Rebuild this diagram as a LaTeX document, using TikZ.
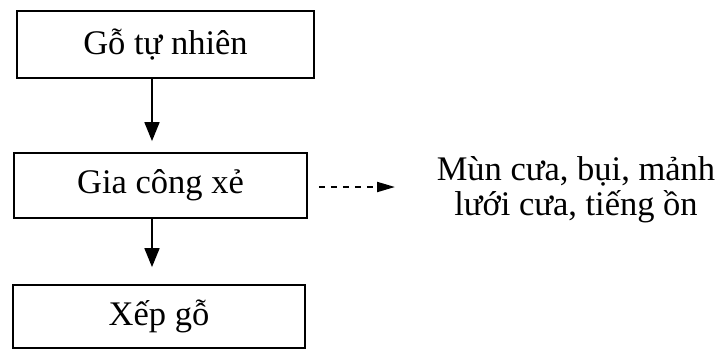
\documentclass[tikz,border=0pt]{standalone}
\usepackage{fontspec}
\setmainfont{Liberation Serif}
\usetikzlibrary{arrows.meta,calc}
\begin{document}
\begin{tikzpicture}[x=1pt,y=1pt,
  every node/.style={font=\fontsize{34.5}{35}\selectfont, inner sep=0pt},
  stepbox/.style={draw, line width=1.8pt, minimum width=#1, minimum height=65pt},
  flow/.style={line width=1.8pt, -{Triangle[length=19pt,width=15pt]}},
  waste/.style={line width=2pt, dash pattern=on 6pt off 6pt, -{Triangle[length=18pt,width=10pt]}}]
  \useasboundingbox (0,0) rectangle (721,-349);
  % process steps
  \node[stepbox=297pt, minimum height=67pt] (go) at (165.5,-44.5) {Gỗ tự nhiên};
  \node[stepbox=293pt] (xe) at (160.5,-185.5) {Gia công xẻ};
  \node[stepbox=292pt, minimum height=63pt] (xep) at (159,-316.5) {Xếp gỗ};
  % by-products of sawing
  \node[align=center, anchor=base] (bi) at (576,-215) {Mùn cưa, bụi, mảnh\\lưới cưa, tiếng ồn};
  % arrows
  \coordinate (ax) at (152,0);
  \draw[flow, shorten >=11pt] (go.south -| ax) -- (xe.north -| ax);
  \draw[flow, shorten >=17pt] (xe.south -| ax) -- (xep.north -| ax);
  \coordinate (wt) at (395,-187);
  \draw[waste] ($(xe.east)+(11,-1.5)$) -- (wt);
\end{tikzpicture}
\end{document}
